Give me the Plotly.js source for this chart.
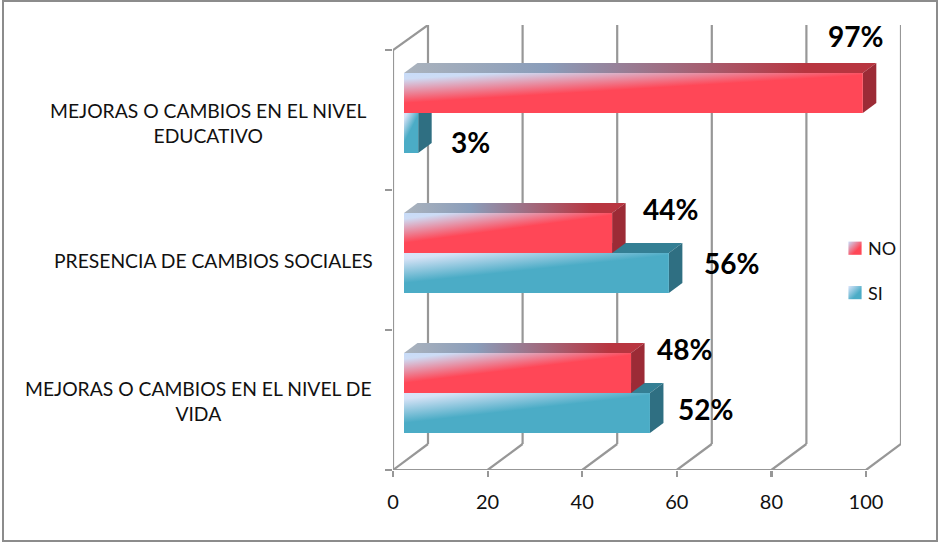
<!DOCTYPE html>
<html>
<head>
<meta charset="utf-8">
<script src="https://cdn.plot.ly/plotly-3.0.1.min.js"></script>
<style>html,body{margin:0;padding:0;background:#fff}#c{width:938px;height:542px}</style>
</head>
<body>
<div id="c"></div>
<svg width="0" height="0" style="position:absolute">
  <defs>
    <linearGradient id="faceNO" x1="0" y1="0" x2="0.352" y2="0.506">
      <stop offset="0" stop-color="#c8dcf9"/><stop offset="0.2" stop-color="#cddcf5"/><stop offset="1" stop-color="#ff4757"/>
    </linearGradient>
    <linearGradient id="faceSI" x1="0" y1="0" x2="0.352" y2="0.506">
      <stop offset="0" stop-color="#dbe5fb"/><stop offset="0.2" stop-color="#d5e2f6"/><stop offset="1" stop-color="#4bacc6"/>
    </linearGradient>
    <linearGradient id="topNO" x1="0" y1="0" x2="1" y2="0">
      <stop offset="0" stop-color="#abb3bd"/><stop offset="0.3" stop-color="#8a9dba"/><stop offset="0.85" stop-color="#b83540"/><stop offset="1" stop-color="#b83540"/>
    </linearGradient>
    <linearGradient id="swNO" x1="0" y1="0" x2="1" y2="1">
      <stop offset="0" stop-color="#c8dcf9"/><stop offset="0.65" stop-color="#ff4757"/>
    </linearGradient>
    <linearGradient id="swSI" x1="0" y1="0" x2="1" y2="1">
      <stop offset="0" stop-color="#dbe5fb"/><stop offset="0.65" stop-color="#4bacc6"/>
    </linearGradient>
  </defs>
</svg>
<script>
var categories = ['MEJORAS O CAMBIOS EN EL NIVEL DE<br>VIDA', 'PRESENCIA DE CAMBIOS SOCIALES', 'MEJORAS O CAMBIOS EN EL NIVEL<br>EDUCATIVO'];
var siValues = [52, 56, 3];
var noValues = [48, 44, 97];
var tickValues = [0, 20, 40, 60, 80, 100];
var labelCentres = [198, 213, 208];
var labelDrops = [1, 0, 3];
var labelShiftsSI = [[56, 4], [63, 10], [52, -9]];
var labelShiftsNO = [[53, 24], [58, 24], [-7, 57]];

var W = 938, H = 542;
var L = 393, R = 901, T = 25, B = 470;
var pxX = 4.73, pxY = 140;
var wallDX = 35 / pxX, wallDY = 26 / pxY;   // depth of the chart floor
var barDX = 13.5 / pxX, barDY = 10 / pxY;   // depth of a bar
var halfBar = 40 / pxY;                     // one bar's thickness
var xr = [0, (R - L) / pxX];
var x2r = [(L - 404) / pxX, (R - 404) / pxX];
var yspan = (B - T) / pxY;
var yr = [-0.5, -0.5 + yspan];
var y2r = [-(B - 393) / pxY, -(B - 393) / pxY + yspan];
var wallColor = '#979797', wallW = 2.2;
var fontName = 'Lato, Carlito, "Open Sans", sans-serif';

var shapes = [];
var gradients = [];
function line(x0, y0, x1, y1) {
  shapes.push({type: 'line', xref: 'x', yref: 'y', layer: 'below', x0: x0, y0: y0, x1: x1, y1: y1,
    line: {color: wallColor, width: wallW}});
}
function poly(pts, fill, grad) {
  var d = 'M' + pts.map(function (p) { return p[0] + ',' + p[1]; }).join('L') + 'Z';
  if (grad) gradients.push([shapes.length, grad]);
  shapes.push({type: 'path', xref: 'x2', yref: 'y2', layer: 'below', path: d, fillcolor: fill, line: {width: 0}});
}
var y0 = yr[0], yTop = 2.5;
tickValues.forEach(function (t) {
  line(t, y0, t + wallDX, y0 + wallDY);
  line(t + wallDX, y0 + wallDY, t + wallDX, yr[1]);
});
line(0, y0, 100, y0);
line(0, y0, 0, yTop);
line(0, yTop, wallDX, yr[1]);

categories.forEach(function (c, i) {
  var v = siValues[i];
  var yb = i - halfBar, yt = i;
  poly([[0, yt], [barDX, yt + barDY], [v + barDX, yt + barDY], [v, yt]], '#347f94');
  poly([[v, yb], [v + barDX, yb + barDY], [v + barDX, yt + barDY], [v, yt]], '#2f6f82');
});
categories.forEach(function (c, i) {
  var v = noValues[i];
  var yb = i, yt = i + halfBar;
  poly([[0, yt], [barDX, yt + barDY], [v + barDX, yt + barDY], [v, yt]], '#b83540', 'topNO');
  poly([[v, yb], [v + barDX, yb + barDY], [v + barDX, yt + barDY], [v, yt]], '#9c2b36');
});
// outer frame of the picture
shapes.push({type: 'rect', xref: 'paper', yref: 'paper', layer: 'below',
  x0: (3 - L) / (R - L), x1: (937 - L) / (R - L), y0: (B - 541) / (B - T), y1: (B - 1) / (B - T),
  line: {color: '#8c8c8c', width: 2}});

var annotations = [];
categories.forEach(function (c, i) {
  annotations.push({xref: 'paper', yref: 'y', x: (labelCentres[i] - L) / (R - L), y: i, yshift: -labelDrops[i], text: c, showarrow: false,
    xanchor: 'center', yanchor: 'middle', align: 'center', font: {family: fontName, size: 19.3, color: '#111'}});
  annotations.push({xref: 'x2', yref: 'y2', x: siValues[i], y: i - halfBar / 2, text: siValues[i] + '%', showarrow: false,
    xshift: labelShiftsSI[i][0], yshift: labelShiftsSI[i][1], xanchor: 'center', yanchor: 'middle',
    font: {family: fontName, size: 28, color: '#000', weight: 700}});
  annotations.push({xref: 'x2', yref: 'y2', x: noValues[i], y: i + halfBar / 2, text: noValues[i] + '%', showarrow: false,
    xshift: labelShiftsNO[i][0], yshift: labelShiftsNO[i][1], xanchor: 'center', yanchor: 'middle',
    font: {family: fontName, size: 28, color: '#000', weight: 700}});
});

var data = [
  {type: 'bar', orientation: 'h', name: 'SI', x: siValues, y: categories, xaxis: 'x2', yaxis: 'y2',
   marker: {color: '#4bacc6', line: {width: 0}}, legendgroup: 'si', legendrank: 2, cliponaxis: false},
  {type: 'bar', orientation: 'h', name: 'NO', x: noValues, y: categories, xaxis: 'x2', yaxis: 'y2',
   marker: {color: '#ff4757', line: {width: 0}}, legendgroup: 'no', legendrank: 1, cliponaxis: false}
];

var layout = {
  width: W, height: H,
  margin: {l: L, r: W - R, t: T, b: H - B, pad: 0},
  paper_bgcolor: '#fff', plot_bgcolor: 'rgba(0,0,0,0)',
  barmode: 'group', bargap: 1 - 2 * halfBar, bargroupgap: 0,
  showlegend: true,
  legend: {x: (828 - L) / (R - L), y: (B - 230) / (B - T), xanchor: 'left', yanchor: 'top',
    bgcolor: 'rgba(0,0,0,0)', traceorder: 'grouped', tracegroupgap: 18, itemwidth: 30,
    font: {family: fontName, size: 18, color: '#111'}},
  xaxis: {range: xr, tickmode: 'array', tickvals: tickValues, ticktext: tickValues.map(String),
    ticks: 'outside', ticklen: 6, tickwidth: wallW, tickcolor: wallColor, showgrid: false, zeroline: false,
    showline: false, ticklabelstandoff: 8, tickfont: {family: fontName, size: 20, color: '#111'}, fixedrange: true},
  yaxis: {type: 'category', categoryorder: 'array', categoryarray: categories, range: yr,
    tickson: 'boundaries', ticks: 'outside', ticklen: 7, tickwidth: wallW, tickcolor: wallColor,
    showticklabels: false, showgrid: false, zeroline: false, showline: false, fixedrange: true},
  xaxis2: {range: x2r, overlaying: 'x', anchor: 'y2', visible: false, fixedrange: true},
  yaxis2: {type: 'category', categoryorder: 'array', categoryarray: categories, range: y2r,
    overlaying: 'y', anchor: 'x2', visible: false, fixedrange: true},
  shapes: shapes,
  annotations: annotations
};

Plotly.newPlot('c', data, layout, {displayModeBar: false, staticPlot: true}).then(function (gd) {
  // gradient fills for the faces the library drew
  var traces = gd.querySelectorAll('.barlayer .trace');
  var faceIds = ['faceSI', 'faceNO'];
  traces.forEach(function (tr, k) {
    tr.querySelectorAll('.point path').forEach(function (p) { p.style.fill = 'url(#' + faceIds[k] + ')'; });
  });
  gradients.forEach(function (g) {
    gd.querySelectorAll('path[data-index="' + g[0] + '"]').forEach(function (p) {
      p.style.fill = 'url(#' + g[1] + ')';
    });
  });
  gd.querySelectorAll('.legend .traces').forEach(function (t) {
    var name = t.querySelector('.legendtext').textContent;
    t.querySelectorAll('.legendpoints path').forEach(function (p) {
      p.style.fill = 'url(#' + (name === 'NO' ? 'swNO' : 'swSI') + ')';
      p.setAttribute('transform', 'translate(27,0) scale(1.1)');
    });
  });
});
</script>
</body>
</html>
